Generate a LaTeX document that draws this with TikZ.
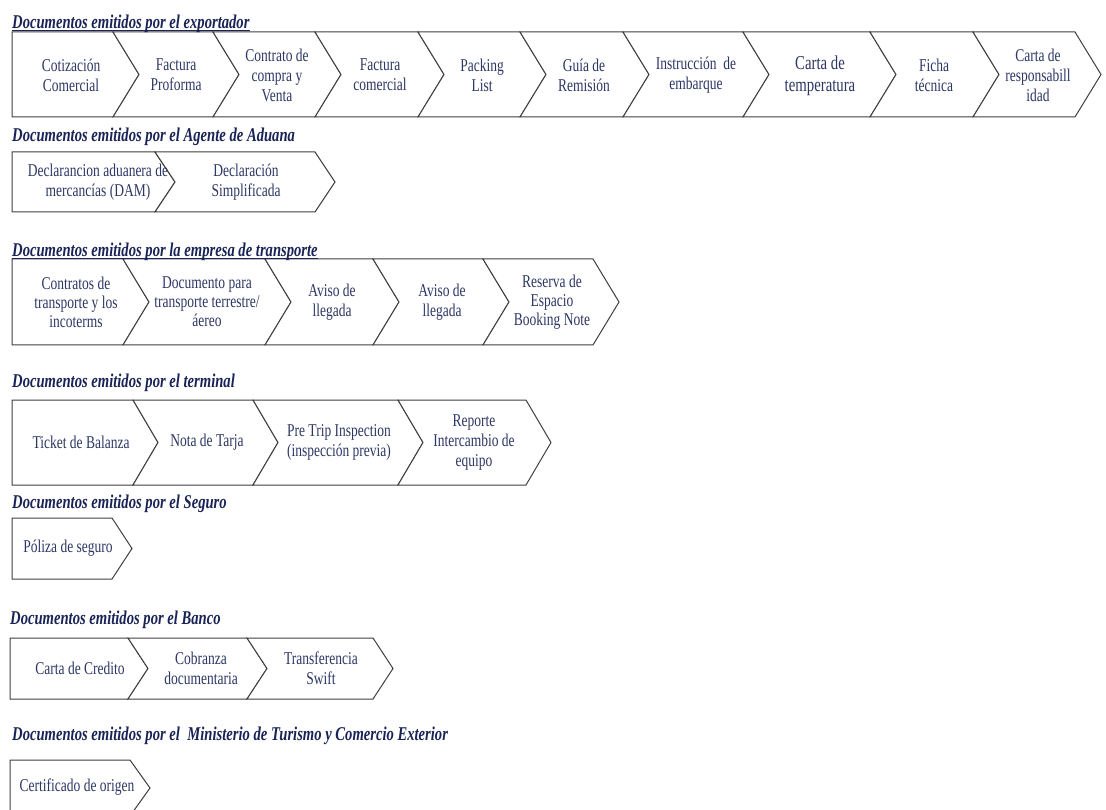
\documentclass[tikz,border=0pt]{standalone}
\usepackage{fontspec}
\newfontfamily\lblfont[FakeStretch=0.75]{Liberation Serif}
\newfontfamily\hdfont[FakeStretch=0.75]{Liberation Serif}
\definecolor{lblcol}{RGB}{45,55,100}
\definecolor{hdcol}{RGB}{25,35,85}
\definecolor{edgecol}{RGB}{64,64,64}
% #1 left x, #2 right corner x, #3 top y, #4 bottom y, #5 point depth, #6 notch (0/1)
\newcommand{\mychev}[6]{\draw[chevline] (#1,#3) -- (#2,#3) -- ({#2+#5},{(#3+#4)/2}) -- (#2,#4) -- (#1,#4) -- ({#1+#6*#5},{(#3+#4)/2}) -- cycle;}
\tikzset{
  chevline/.style={draw=edgecol, line width=1pt, fill=white, line join=miter},
  lbl/.style={font=\lblfont\fontsize{18}{20}\selectfont, text=lblcol, align=center, inner sep=0pt},
  lblbig/.style={font=\lblfont\fontsize{19.7}{22.5}\selectfont, text=lblcol, align=center, inner sep=0pt},
  hd/.style={font=\hdfont\bfseries\itshape\fontsize{19.5}{22}\selectfont, text=hdcol, inner sep=0pt, anchor=base west},
  uline/.style={draw=hdcol, line width=1pt}
}
\begin{document}
\begin{tikzpicture}[x=1pt,y=-1pt]
\useasboundingbox (0,0) rectangle (1106,810);
\clip (0,0) rectangle (1106,810);
\fill[white] (0,0) rectangle (1106,810);

% ---------- Row 1: exportador ----------
\mychev{12}{113}{32}{117}{26}{0}
\mychev{113}{213}{32}{117}{26}{1}
\mychev{213}{315}{32}{117}{26}{1}
\mychev{315}{418}{32}{117}{26}{1}
\mychev{418}{520}{32}{117}{26}{1}
\mychev{520}{623}{32}{117}{26}{1}
\mychev{623}{743}{32}{117}{26}{1}
\mychev{743}{870}{32}{117}{26}{1}
\mychev{870}{973}{32}{117}{26}{1}
\mychev{973}{1075}{32}{117}{26}{1}
\node[lbl] (e1) at (71,75) {Cotización\\Comercial};
\node[lbl] (e2) at (176,75) {Factura\\Proforma};
\node[lbl] (e3) at (277,75) {Contrato de\\compra y\\Venta};
\node[lbl] (e4) at (380,75) {Factura\\comercial};
\node[lbl] (e5) at (482,75) {Packing\\List};
\node[lbl] (e6) at (584,75) {Guía de\\Remisión};
\node[lbl] (e7) at (696,75) {Instrucción\ \ de\\embarque};
\node[lblbig] (e8) at (820,76) {Carta de\\temperatura};
\node[lbl] (e9) at (934,75) {Ficha\\técnica};
\node[lbl] (e10) at (1038,75) {Carta de\\responsabill\\idad};
\node[hd] (h1) at (12,29) {Documentos emitidos por el exportador};
\draw[uline] ([yshift=-2pt]h1.base west) -- ([yshift=-2pt]h1.base east);

% ---------- Row 2: Agente de Aduana ----------
\mychev{12}{155}{152}{212}{20}{0}
\mychev{155}{315}{152}{212}{20}{1}
\node[lbl] (a1) at (98,182) {Declarancion aduanera de\\mercancías (DAM)};
\node[lbl] (a2) at (246,182) {Declaración\\Simplificada};
\node[hd] (h2) at (12,142) {Documentos emitidos por el Agente de Aduana};

% ---------- Row 3: empresa de transporte ----------
\mychev{12}{123}{259}{345}{26}{0}
\mychev{123}{265}{259}{345}{26}{1}
\mychev{265}{373}{259}{345}{26}{1}
\mychev{373}{483}{259}{345}{26}{1}
\mychev{483}{593}{259}{345}{26}{1}
\node[lbl, font=\lblfont\fontsize{18}{19}\selectfont] (t1) at (76,302) {Contratos de\\transporte y los\\incoterms};
\node[lbl, font=\lblfont\fontsize{18}{19}\selectfont] (t2) at (207,302) {Documento para\\transporte terrestre/\\áereo};
\node[lbl] (t3) at (332,302) {Aviso de\\llegada};
\node[lbl] (t4) at (442,302) {Aviso de\\llegada};
\node[lbl, font=\lblfont\fontsize{18}{19}\selectfont] (t5) at (552,302) {Reserva de\\Espacio\\Booking Note};
\node[hd] (h3) at (12,257) {Documentos emitidos por la empresa de transporte};
\draw[uline] ([yshift=-2pt]h3.base west) -- ([yshift=-2pt]h3.base east);

% ---------- Row 4: terminal ----------
\mychev{12}{133}{400}{485}{25}{0}
\mychev{133}{253}{400}{485}{25}{1}
\mychev{253}{398}{400}{485}{25}{1}
\mychev{398}{526}{400}{485}{25}{1}
\node[lbl] (m1) at (81,442.5) {Ticket de Balanza};
\node[lbl] (m2) at (207,442.5) {Nota de Tarja};
\node[lbl] (m3) at (339,442.5) {Pre Trip Inspection\\(inspección previa)};
\node[lbl] (m4) at (474,442.5) {Reporte\\Intercambio de\\equipo};
\node[hd] (h4) at (12,388) {Documentos emitidos por el terminal};

% ---------- Row 5: Seguro ----------
\mychev{12}{112}{518}{579}{20}{0}
\node[lbl] (s1) at (68,548.5) {Póliza de seguro};
\node[hd] (h5) at (12,508) {Documentos emitidos por el Seguro};

% ---------- Row 6: Banco ----------
\mychev{10}{128}{638}{699}{20}{0}
\mychev{128}{247}{638}{699}{20}{1}
\mychev{247}{373}{638}{699}{20}{1}
\node[lbl] (b1) at (80,668.5) {Carta de Credito};
\node[lbl] (b2) at (201,668.5) {Cobranza\\documentaria};
\node[lbl] (b3) at (321,668.5) {Transferencia\\Swift};
\node[hd] (h6) at (10,624) {Documentos emitidos por el Banco};

% ---------- Row 7: Ministerio ----------
\mychev{10}{130}{760}{816}{20}{0}
\node[lbl] (c1) at (77,787) {Certificado de origen};
\node[hd] (h7) at (12,740) {Documentos emitidos por el\ \ Ministerio de Turismo y Comercio Exterior};
\end{tikzpicture}
\end{document}
